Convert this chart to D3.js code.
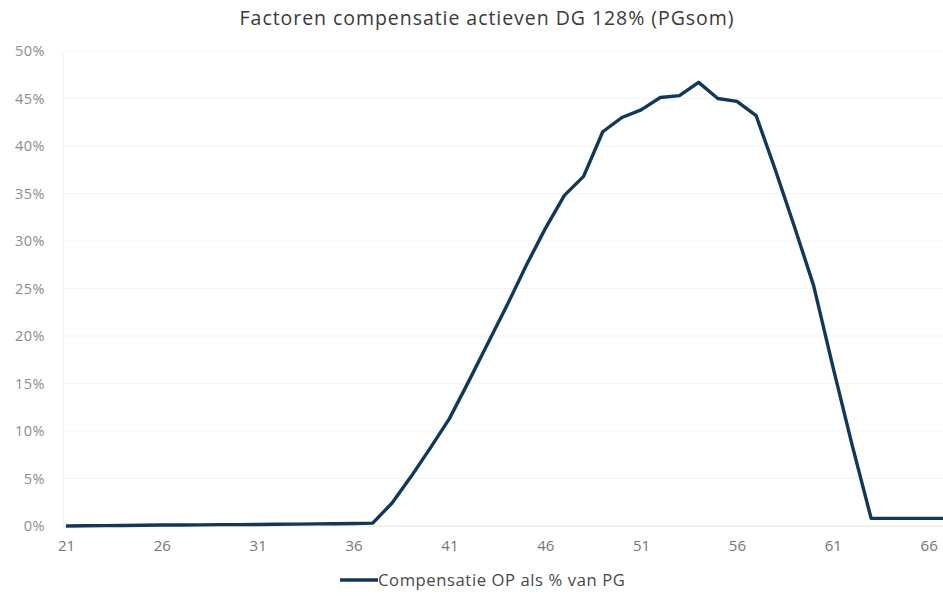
<!DOCTYPE html>
<html>
<head>
<meta charset="utf-8">
<script src="https://cdn.jsdelivr.net/npm/d3@7"></script>
<style>
  html, body { margin: 0; padding: 0; background: #fff; }
  svg { display: block; font-family: "Open Sans", Lato, sans-serif; }
</style>
</head>
<body>
<svg id="chart" width="943" height="596"></svg>
<script>
// Age categories (x axis)
const ages = [21,22,23,24,25,26,27,28,29,30,31,32,33,34,35,36,37,38,39,40,
              41,42,43,44,45,46,47,48,49,50,51,52,53,54,55,56,57,58,59,60,
              61,62,63,64,65,66,67];
// Compensatie OP als % van PG, per age
const compensatie = [0.00,0.02,0.04,0.06,0.08,0.10,0.10,0.12,0.14,0.15,
                     0.16,0.18,0.20,0.22,0.24,0.26,0.30,2.4,5.2,8.2,
                     11.3,15.2,19.2,23.2,27.4,31.3,34.8,36.8,41.5,43.0,
                     43.8,45.1,45.3,46.7,45.0,44.7,43.2,37.5,31.5,25.3,
                     16.8,8.6,0.8,0.8,0.8,0.8,0.8];
// Tick labels
const xTickAges = [21,26,31,36,41,46,51,56,61,66];
const yTicks = [0,5,10,15,20,25,30,35,40,45,50];

const titleText = "Factoren compensatie actieven DG 128% (PGsom)";
const seriesName = "Compensatie OP als % van PG";

const svg = d3.select("#chart");

const x = d3.scalePoint()
  .domain(ages)
  .range([66, 66 + (ages.length - 1) * 19.17]);

const y = d3.scaleLinear()
  .domain([0, 50])
  .range([526, 51]);

// Title
svg.append("text")
  .attr("x", 487).attr("y", 25)
  .attr("text-anchor", "middle")
  .attr("fill", "#3a3a3a")
  .attr("font-size", 19.5)
  .attr("letter-spacing", 0.95)
  .text(titleText);

// Faint horizontal gridlines
svg.append("g")
  .selectAll("line")
  .data(yTicks.filter(d => d > 0))
  .join("line")
  .attr("x1", 63).attr("x2", 943)
  .attr("y1", d => y(d)).attr("y2", d => y(d))
  .attr("stroke", "#f5f5f5")
  .attr("stroke-width", 1);

// Faint vertical axis line
svg.append("line")
  .attr("x1", 63).attr("x2", 63)
  .attr("y1", y(50)).attr("y2", y(0))
  .attr("stroke", "#f0f0f0");

// Baseline
svg.append("line")
  .attr("x1", 63).attr("x2", 943)
  .attr("y1", y(0)).attr("y2", y(0))
  .attr("stroke", "#e4e4e4")
  .attr("stroke-width", 1);

// Y axis labels
const yAxis = d3.axisLeft(y)
  .tickValues(yTicks)
  .tickFormat(d => d + "%")
  .tickSize(0)
  .tickPadding(0);
const gy = svg.append("g")
  .attr("transform", "translate(45,0)")
  .call(yAxis);
gy.select(".domain").remove();
gy.selectAll("text")
  .attr("fill", "#8c8c8c")
  .attr("font-size", 14.5)
  .attr("letter-spacing", 0.5)
  .attr("font-family", "'Open Sans', Lato, sans-serif");

// X axis labels
const xAxis = d3.axisBottom(x)
  .tickValues(xTickAges)
  .tickSize(0)
  .tickPadding(0);
const gx = svg.append("g")
  .attr("transform", "translate(0,540)")
  .call(xAxis);
gx.select(".domain").remove();
gx.selectAll("text")
  .attr("fill", "#767676")
  .attr("font-size", 15)
  .attr("font-family", "'Open Sans', Lato, sans-serif");

// Series line
const line = d3.line()
  .x((d, i) => x(ages[i]))
  .y(d => y(d));

svg.append("path")
  .datum(compensatie)
  .attr("d", line)
  .attr("fill", "none")
  .attr("stroke", "#113858")
  .attr("stroke-width", 3.4)
  .attr("stroke-linejoin", "round");

// Legend
const legend = svg.append("g").attr("transform", "translate(340,586)");
legend.append("line")
  .attr("x1", 0).attr("x2", 38)
  .attr("y1", -6).attr("y2", -6)
  .attr("stroke", "#113858")
  .attr("stroke-width", 3.4);
legend.append("text")
  .attr("x", 38).attr("y", 0)
  .attr("fill", "#484848")
  .attr("font-size", 16.6)
  .attr("letter-spacing", 0.6)
  .text(seriesName);
</script>
</body>
</html>
